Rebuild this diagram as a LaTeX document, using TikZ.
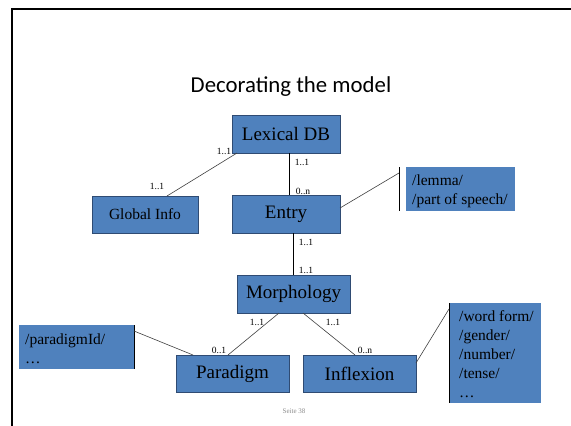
\documentclass[tikz,border=0pt]{standalone}
\usepackage{fontspec}
\setmainfont{Liberation Serif}
\newfontfamily\titlefont{Carlito}
\newfontfamily\boxfont{Liberation Serif}
\definecolor{boxblue}{HTML}{4F81BD}
\definecolor{boxedge}{HTML}{2F4B73}
\begin{document}
\begin{tikzpicture}[x=1pt,y=-1pt,
  ent/.style={draw=boxedge,line width=0.8pt,fill=boxblue,inner sep=0pt,font=\boxfont\fontsize{19}{21}\selectfont},
  attr/.style={fill=boxblue,inner sep=0pt,anchor=north west},
  atext/.style={anchor=base west,align=left,inner sep=0pt,font=\boxfont\fontsize{15.5}{19}\selectfont},
  card/.style={font=\boxfont\fontsize{9.5}{10}\selectfont,inner sep=0pt},
  rel/.style={draw=black!75,line width=0.6pt}]
\useasboundingbox (0,0) rectangle (571,426);
\fill[white] (0,0) rectangle (571,426);
% frame
\draw[line width=2.2pt] (12,430) -- (12,9) -- (575,9);
\node (title) at (291,87) {\titlefont\fontsize{22.8}{26}\selectfont Decorating the model};
% entities
\node[ent,minimum width=108pt,minimum height=38pt] (lex) at (286,134) {Lexical DB};
\node[ent,minimum width=106pt,minimum height=37pt,font=\boxfont\fontsize{15.5}{17}\selectfont] (glob) at (145,214.5) {Global Info};
\node[ent,minimum width=108pt,minimum height=38pt] (entry) at (286,214) {Entry};
\node[ent,minimum width=113pt,minimum height=38pt] (morph) at (293.5,294) {Morphology};
\node[ent,minimum width=113pt,minimum height=37pt] (para) at (232.5,373.5) {Paradigm};
\node[ent,minimum width=113pt,minimum height=37pt] (infl) at (359.5,373.5) {Inflexion};
% attribute boxes
\node[attr,minimum width=109pt,minimum height=44pt] (eattr) at (406,167) {};
\node[atext] (etext) at (412,204) {/lemma/\\/part of speech/};
\draw[line width=1pt] (399,167) -- (399,211);
\node[attr,minimum width=115pt,minimum height=44pt] (pattr) at (19,325) {};
\node[atext] (ptext) at (25,363) {/paradigmId/\\\dots};
\draw[line width=1pt] (134,325) -- (134,369);
\node[attr,minimum width=92pt,minimum height=100pt] (iattr) at (449,303) {};
\node[atext] (itext) at (459,397) {/word form/\\/gender/\\/number/\\/tense/\\\dots};
\draw[line width=1pt] (449,303) -- (449,403);
% coordinates for attribute connectors
\coordinate (ea) at (399,173);
\coordinate (pa) at (134,331);
\coordinate (ia) at (449,309);
% relations
\draw[rel] (237,153) coordinate (l1) -- (167,196) coordinate (g1);
\draw[line width=0.8pt] (289,153) coordinate (le1) -- (289,195) coordinate (en1);
\draw[line width=0.8pt] (293,233) coordinate (en2) -- (293,275) coordinate (mo1);
\draw[rel] (340,208) coordinate (en3) -- (ea);
\draw[rel] (279,313) coordinate (mo2) -- (228,355) coordinate (pa1);
\draw[rel] (303,313) coordinate (mo3) -- (355,355) coordinate (in1);
\draw[rel] (pa) -- (193,355) coordinate (pa2);
\draw[rel] (416,363) coordinate (in2) -- (ia);
% cardinalities
\node[card] (c1) at (224,151) {1..1};
\node[card] (c2) at (157,186) {1..1};
\node[card] (c3) at (302,162) {1..1};
\node[card] (c4) at (303,191) {0..n};
\node[card] (c5) at (306,242) {1..1};
\node[card] (c6) at (306,270) {1..1};
\node[card] (c7) at (257,322) {1..1};
\node[card] (c8) at (219,350) {0..1};
\node[card] (c9) at (333,322) {1..1};
\node[card] (c10) at (365,350) {0..n};
\node[font=\boxfont\fontsize{7}{8}\selectfont,text=black!45,inner sep=0pt] (seite) at (294,411) {Seite 38};
\end{tikzpicture}
\end{document}
